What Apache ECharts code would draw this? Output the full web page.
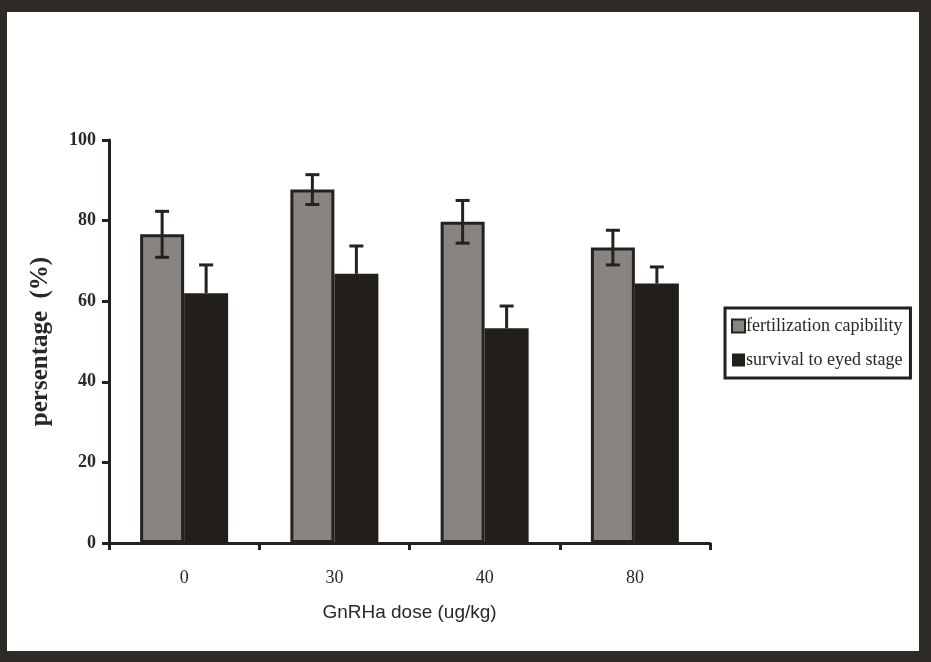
<!DOCTYPE html>
<html>
<head>
<meta charset="utf-8">
<script src="https://cdn.jsdelivr.net/npm/echarts@6/dist/echarts.min.js"></script>
<style>
  html, body { margin: 0; padding: 0; background: #fff; }
  #chart { width: 931px; height: 662px; }
</style>
</head>
<body>
<div id="chart"></div>
<script>
// Data
const doses = ['0', '30', '40', '80'];
const fertilization = [76.6, 87.7, 79.7, 73.3];
const fertilizationErr = [5.7, 3.7, 5.3, 4.3];
const survival = [62.0, 66.8, 53.3, 64.4];
const survivalErr = [7.0, 6.9, 5.5, 4.1];

const ink = '#25221e';
const barWidth = 44;

// error bar drawer, offset left/right of the category centre
function errorSeries(values, errs, offset, upperOnly) {
    return {
        type: 'custom',
        silent: true,
        z: 5,
        data: values.map((v, i) => [i, v, errs[i]]),
        renderItem: function (params, api) {
            const i = api.value(0);
            const v = api.value(1);
            const e = api.value(2);
            const top = api.coord([i, v + e]);
            const bot = api.coord([i, upperOnly ? v : v - e]);
            const x = top[0] + offset;
            const cap = 7;
            const style = { stroke: ink, lineWidth: 3 };
            const parts = [
                { type: 'line', shape: { x1: x, y1: top[1], x2: x, y2: bot[1] }, style: style },
                { type: 'line', shape: { x1: x - cap, y1: top[1], x2: x + cap, y2: top[1] }, style: style }
            ];
            if (!upperOnly) {
                parts.push({ type: 'line', shape: { x1: x - cap, y1: bot[1], x2: x + cap, y2: bot[1] }, style: style });
            }
            return { type: 'group', children: parts };
        }
    };
}

const chart = echarts.init(document.getElementById('chart'));

chart.setOption({
    animation: false,
    backgroundColor: '#fff',
    grid: { left: 109, right: 221, top: 140, bottom: 119 },
    legend: {
        orient: 'vertical',
        left: 725,
        top: 308,
        padding: [9, 8, 9, 6],
        itemGap: 16,
        itemWidth: 13,
        itemHeight: 13,
        borderColor: ink,
        borderWidth: 3,
        backgroundColor: '#fff',
        textStyle: { fontFamily: 'Liberation Serif', fontSize: 18, color: '#2a2724', padding: [0, 0, 0, -4] },
        data: [
            { name: 'fertilization capibility', icon: 'rect' },
            { name: 'survival to eyed stage', icon: 'rect' }
        ]
    },
    xAxis: {
        type: 'category',
        data: doses,
        name: 'GnRHa dose (ug/kg)',
        nameLocation: 'middle',
        nameGap: 60,
        nameTextStyle: { fontFamily: 'Liberation Sans', fontSize: 19, color: '#2a2724', letterSpacing: -1 },
        axisLine: { lineStyle: { color: ink, width: 3 } },
        axisTick: { show: true, length: 7, lineStyle: { color: ink, width: 3 } },
        axisLabel: { margin: 26, fontFamily: 'Liberation Serif', fontSize: 18, color: '#2a2724' }
    },
    yAxis: {
        type: 'value',
        min: 0,
        max: 100,
        interval: 20,
        name: 'persentage  (%)',
        nameLocation: 'middle',
        nameGap: 56,
        nameTextStyle: { fontFamily: 'Liberation Serif', fontSize: 25, fontWeight: 'bold', color: '#2a2724' },
        axisLine: { show: true, lineStyle: { color: ink, width: 3 } },
        axisTick: { show: true, length: 7, lineStyle: { color: ink, width: 3 } },
        axisLabel: { margin: 13, fontFamily: 'Liberation Serif', fontSize: 18, fontWeight: 'bold', color: '#2a2724' },
        splitLine: { show: false }
    },
    series: [
        {
            name: 'fertilization capibility',
            type: 'bar',
            barWidth: barWidth,
            barGap: '0%',
            data: fertilization,
            itemStyle: { color: '#878482', borderColor: ink, borderWidth: 3 }
        },
        {
            name: 'survival to eyed stage',
            type: 'bar',
            barWidth: barWidth,
            barGap: '0%',
            data: survival,
            itemStyle: { color: '#221f1b', borderColor: '#221f1b', borderWidth: 0 }
        },
        errorSeries(fertilization, fertilizationErr, -barWidth / 2, false),
        errorSeries(survival, survivalErr, barWidth / 2, true)
    ],
    graphic: [
        // scanned page frame
        { type: 'rect', shape: { x: 0, y: 0, width: 931, height: 12 }, style: { fill: '#2e2a26' } },
        { type: 'rect', shape: { x: 0, y: 0, width: 7, height: 662 }, style: { fill: '#2e2a26' } },
        { type: 'rect', shape: { x: 919, y: 0, width: 12, height: 662 }, style: { fill: '#2e2a26' } },
        { type: 'rect', shape: { x: 0, y: 651, width: 931, height: 11 }, style: { fill: '#2e2a26' } }
    ]
});
</script>
</body>
</html>
